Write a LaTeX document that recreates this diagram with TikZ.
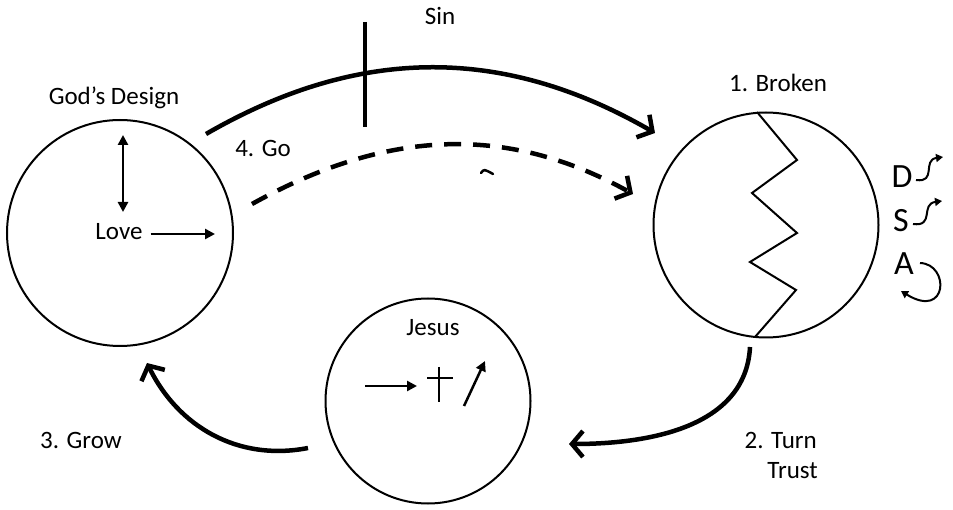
\documentclass[tikz,border=0pt]{standalone}
\usepackage{fontspec}
\setmainfont{Carlito}
\usetikzlibrary{arrows.meta}
\begin{document}
\begin{tikzpicture}[x=1pt,y=-1pt,
  ring/.style={circle,draw,line width=2pt,inner sep=0pt},
  lbl/.style={anchor=base,inner sep=0pt,font=\fontsize{25}{28}\selectfont},
  big/.style={anchor=base,inner sep=0pt,font=\fontsize{34}{37}\selectfont},
  flow/.style={line width=4.5pt,-{Straight Barb[length=11pt,width=26pt]}},
  small/.style={line width=2.5pt,-{Triangle[length=10pt,width=10pt]}},
  wiggle/.style={line width=2pt,-{Triangle[length=7pt,width=8pt]}}]
\useasboundingbox (0,0) rectangle (953,510);
% circles
\node[ring,minimum size=226pt] (god) at (120,233) {};
\node[ring,minimum size=225pt] (broken) at (766,225) {};
\node[ring,minimum size=205pt] (jesus) at (428,401) {};
% labels
\node[lbl] (tgod) at (114,105) {God’s Design};
\node[lbl] (tlove) at (119,240) {Love};
\node[lbl] (tsin) at (440,25) {Sin};
\node[lbl] (tgo) at (263,157) {4. Go};
\node[lbl] (tbroken) at (778,92) {1. Broken};
\node[lbl,anchor=base east] (tturn) at (817,448) {2. Turn};
\node[lbl,anchor=base east] (ttrust) at (818,478) {Trust};
\node[lbl] (tgrow) at (81,448) {3. Grow};
\node[lbl] (tjesus) at (433,336) {Jesus};
\node[big] (tD) at (902,188) {D};
\node[big] (tS) at (901,232) {S};
\node[big] (tA) at (904,275) {A};
% God's design arrows
\coordinate (vt) at (123,135);
\coordinate (vb) at (123,212);
\draw[line width=2.5pt,{Triangle[length=10pt,width=10pt]}-{Triangle[length=10pt,width=10pt]}] (vt) -- (vb);
\coordinate (lovetip) at (215,234);
\draw[small] (tlove.east |- lovetip) ++(8,0) -- (lovetip);
% zigzag
\draw[line width=2pt,line join=miter] (757,112) -- (797,160) -- (752,193) -- (797,233) -- (750,262) -- (796,290) -- (755,337);
% Jesus symbols
\coordinate (ja) at (365,386);
\coordinate (jb) at (417,386);
\draw[small] (ja) -- (jb);
\draw[line width=2.5pt] (439,367) -- (439,402);
\draw[line width=2.5pt] (427,378) -- (453,378);
\coordinate (jc) at (464,406);
\coordinate (jd) at (485,361);
\draw[small] (jc) -- (jd);
% main arcs
\coordinate (s1) at (206,134);
\coordinate (e1) at (655,133);
\draw[flow] (s1) to[out=30,in=150] (e1);
\coordinate (sinT) at (365,22);
\coordinate (sinB) at (365,127);
\draw[line width=4pt] (sinT) -- (sinB);
\coordinate (s2) at (252,204);
\coordinate (e2) at (633,194);
\draw[flow,dash pattern=on 17pt off 12pt] (s2) to[out=29,in=151] (e2);
\draw[line width=2.5pt,line cap=round] (481,173) .. controls (484,169) .. (493,174);
\coordinate (s3) at (750,347);
\coordinate (e3) at (569,444);
\draw[flow] (s3) to[out=-93,in=0] (e3);
\coordinate (s4) at (308,448);
\coordinate (e4) at (147,363);
\draw[flow] (s4) to[out=191,in=-64] (e4);
% DSA wiggles
\coordinate (dtip) at (943,157);
\draw[wiggle] (916,180) .. controls (937,183) and (922,160) .. (dtip);
\coordinate (stip) at (942,201);
\draw[wiggle] (913,224) .. controls (935,227) and (920,204) .. (stip);
\coordinate (atip) at (901,291);
\draw[wiggle] (920,263) .. controls (950,264) and (948,320) .. (atip);
\end{tikzpicture}
\end{document}
